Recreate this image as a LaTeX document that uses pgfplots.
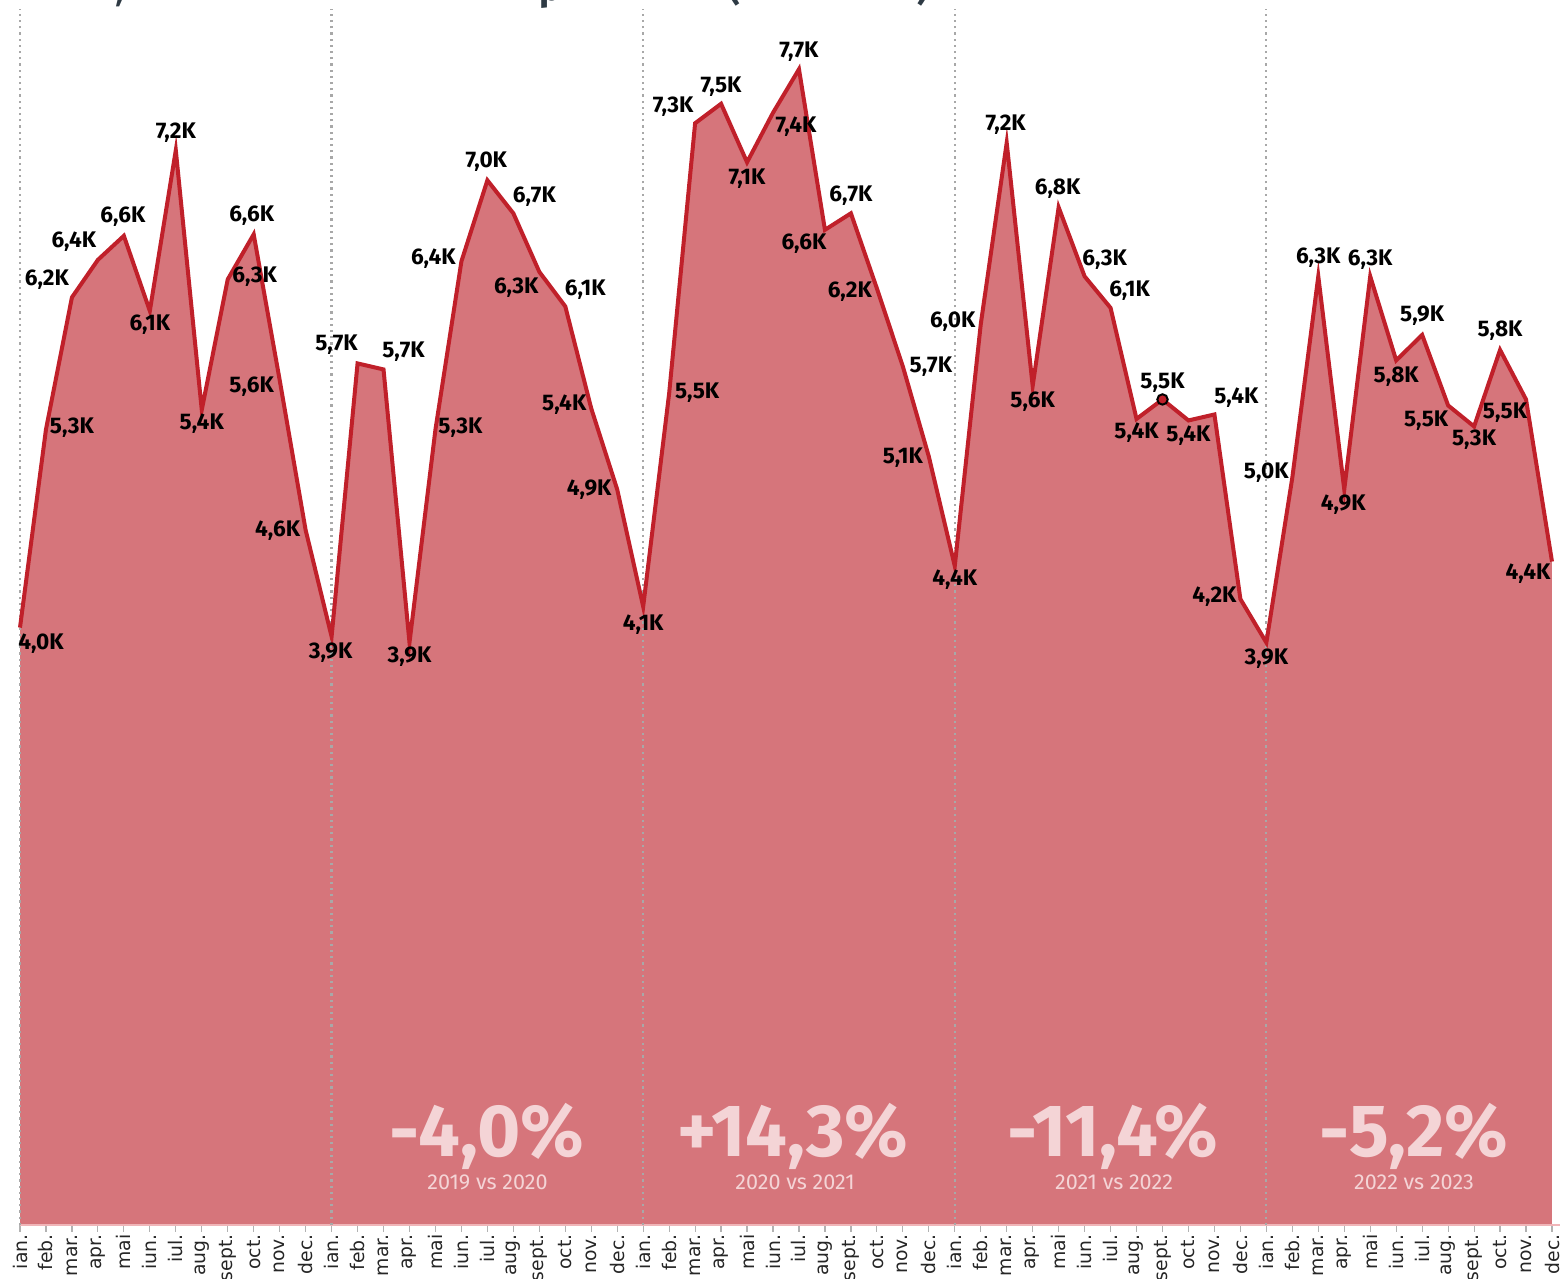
\documentclass[border=0pt]{standalone}
\usepackage{pgfplots}
\pgfplotsset{compat=1.18}
\usepackage{pgfplotstable}
\usepackage{fontspec}
\setmainfont{Fira Sans}
\newfontfamily\dejavu{DejaVu Sans}
\definecolor{areafill}{HTML}{D6757B}
\definecolor{linered}{HTML}{C0202A}
\definecolor{dotgray}{HTML}{A8A8A8}
\definecolor{paletext}{HTML}{F4D4D6}
\definecolor{titlecol}{HTML}{2E3A44}
\definecolor{basepink}{HTML}{F0B5B8}

\pgfplotstableread{
x y lab dx dy
0 3.98 4,0K 21 -16
1 5.30 5,3K 26 2
2 6.18 6,2K -25 18
3 6.43 6,4K -24 18
4 6.59 6,6K -1 19
5 6.09 6,1K 0 -14
6 7.16 7,2K 0 18
7 5.43 5,4K 0 -14
8 6.30 6,3K 27 3
9 6.60 6,6K -2 19
10 5.63 5,6K -28 -7
11 4.63 4,6K -28 -1
12 3.92 3,9K -1 -16
13 5.74 5,7K -21 19
14 5.70 5,7K 20 18
15 3.88 3,9K 0 -14
16 5.30 5,3K 25 2
17 6.42 6,4K -28 3
18 6.96 7,0K -1 19
19 6.74 6,7K 21 17
20 6.35 6,3K -23 -16
21 6.12 6,1K 20 17
22 5.44 5,4K -27 4
23 4.90 4,9K -28 0
24 4.12 4,1K 0 -18
25 5.54 5,5K 28 1
26 7.34 7,3K -22 17
27 7.47 7,5K 0 17
28 7.08 7,1K 0 -16
29 7.41 7,4K 23 -14
30 7.70 7,7K 0 18
31 6.63 6,6K -21 -14
32 6.74 6,7K 0 18
33 6.24 6,2K -27 -3
34 5.72 5,7K 28 0
35 5.12 5,1K -26 -1
36 4.39 4,4K 0 -14
37 6.00 6,0K -28 3
38 7.21 7,2K -1 18
39 5.59 5,6K 0 -16
40 6.78 6,8K -1 19
41 6.32 6,3K 20 17
42 6.11 6,1K 19 17
43 5.37 5,4K 0 -14
44 5.50 5,5K 0 17
45 5.36 5,4K 0 -15
46 5.40 5,4K 22 17
47 4.17 4,2K -26 2
48 3.88 3,9K 0 -16
49 4.98 5,0K -26 5
50 6.32 6,3K 0 19
51 4.90 4,9K -1 -15
52 6.32 6,3K 0 17
53 5.76 5,8K 0 -16
54 5.93 5,9K 0 19
55 5.46 5,5K -22 -15
56 5.32 5,3K 0 -13
57 5.83 5,8K 0 19
58 5.50 5,5K -21 -13
59 4.42 4,4K -24 -12
}\data

\begin{document}
\begin{tikzpicture}
\begin{axis}[
  at={(0,0)}, anchor=south west,
  scale only axis, width=766pt, height=607.9pt,
  xmin=0, xmax=59, ymin=0, ymax=8.1,
  axis x line=bottom, axis y line=none,
  axis line style={draw=none},
  xtick={0,...,59},
  xticklabels={ian.,feb.,mar.,apr.,mai,iun.,iul.,aug.,sept.,oct.,nov.,dec.,
               ian.,feb.,mar.,apr.,mai,iun.,iul.,aug.,sept.,oct.,nov.,dec.,
               ian.,feb.,mar.,apr.,mai,iun.,iul.,aug.,sept.,oct.,nov.,dec.,
               ian.,feb.,mar.,apr.,mai,iun.,iul.,aug.,sept.,oct.,nov.,dec.,
               ian.,feb.,mar.,apr.,mai,iun.,iul.,aug.,sept.,oct.,nov.,dec.},
  xticklabel style={rotate=90, anchor=east, font=\dejavu\fontsize{9.4}{10}\selectfont, text=black!85, inner sep=1pt},
  tick style={draw=black!30, line width=0.6pt},
  major tick length=3.5pt, tick align=outside,
  ytick=\empty,
  clip=false,
]
\addplot[fill=areafill, draw=none] table[x=x,y=y]{\data} \closedcycle;
\draw[basepink, line width=1pt] (axis cs:0,0) -- (axis cs:59.35,0);
\draw[dotgray, line width=1.1pt, dash pattern=on 1.1pt off 2pt] (axis cs:0,0) -- (axis cs:0,8.1);
\draw[dotgray, line width=1.1pt, dash pattern=on 1.1pt off 2pt] (axis cs:12,0) -- (axis cs:12,8.1);
\draw[dotgray, line width=1.1pt, dash pattern=on 1.1pt off 2pt] (axis cs:24,0) -- (axis cs:24,8.1);
\draw[dotgray, line width=1.1pt, dash pattern=on 1.1pt off 2pt] (axis cs:36,0) -- (axis cs:36,8.1);
\draw[dotgray, line width=1.1pt, dash pattern=on 1.1pt off 2pt] (axis cs:48,0) -- (axis cs:48,8.1);
\addplot[linered, line width=2pt, mark=none,
  nodes near coords, point meta=explicit symbolic,
  visualization depends on={\thisrow{dx} \as \mydx},
  visualization depends on={\thisrow{dy} \as \mydy},
  every node near coord/.append style={anchor=center, xshift=\mydx*0.5pt, yshift=\mydy*0.5pt,
     font=\bfseries\fontsize{11.3}{12}\selectfont, text=black, inner sep=0pt}]
  table[x=x,y=y,meta=lab]{\data};
\addplot[only marks, mark=*, mark size=2.6pt, mark options={fill=linered, draw=black, line width=1pt}]
  coordinates {(44,5.50)};
\end{axis}
% percentages
\node[anchor=base, inner sep=0pt, text=paletext, font=\bfseries\fontsize{37}{40}\selectfont] at (233.5pt,34pt) {-4,0\%};
\node[anchor=base, inner sep=0pt, text=paletext, font=\bfseries\fontsize{37}{40}\selectfont] at (386.5pt,34pt) {+14,3\%};
\node[anchor=base, inner sep=0pt, text=paletext, font=\bfseries\fontsize{37}{40}\selectfont] at (546.5pt,34pt) {-11,4\%};
\node[anchor=base, inner sep=0pt, text=paletext, font=\bfseries\fontsize{37}{40}\selectfont] at (697pt,34pt) {-5,2\%};
\node[anchor=base, inner sep=0pt, text=paletext, font=\fontsize{10.8}{12}\selectfont] at (233.75pt,17.5pt) {2019 vs 2020};
\node[anchor=base, inner sep=0pt, text=paletext, font=\fontsize{10.8}{12}\selectfont] at (387.5pt,17.5pt) {2020 vs 2021};
\node[anchor=base, inner sep=0pt, text=paletext, font=\fontsize{10.8}{12}\selectfont] at (547pt,17.5pt) {2021 vs 2022};
\node[anchor=base, inner sep=0pt, text=paletext, font=\fontsize{10.8}{12}\selectfont] at (697pt,17.5pt) {2022 vs 2023};
% cut-off title fragments
\node[anchor=base, text=titlecol, font=\bfseries\fontsize{18}{20}\selectfont] at (50pt,612pt) {,};
\node[anchor=base, text=titlecol, font=\bfseries\fontsize{18}{20}\selectfont] at (265pt,612pt) {p};
\node[anchor=base, text=titlecol, font=\bfseries\fontsize{18}{20}\selectfont] at (357pt,612pt) {(};
\node[anchor=base, text=titlecol, font=\bfseries\fontsize{18}{20}\selectfont] at (451.5pt,612pt) {)};
\pgfresetboundingbox
\path[use as bounding box] (-10pt,-27pt) rectangle (770pt,612.5pt);
\end{tikzpicture}
\end{document}
